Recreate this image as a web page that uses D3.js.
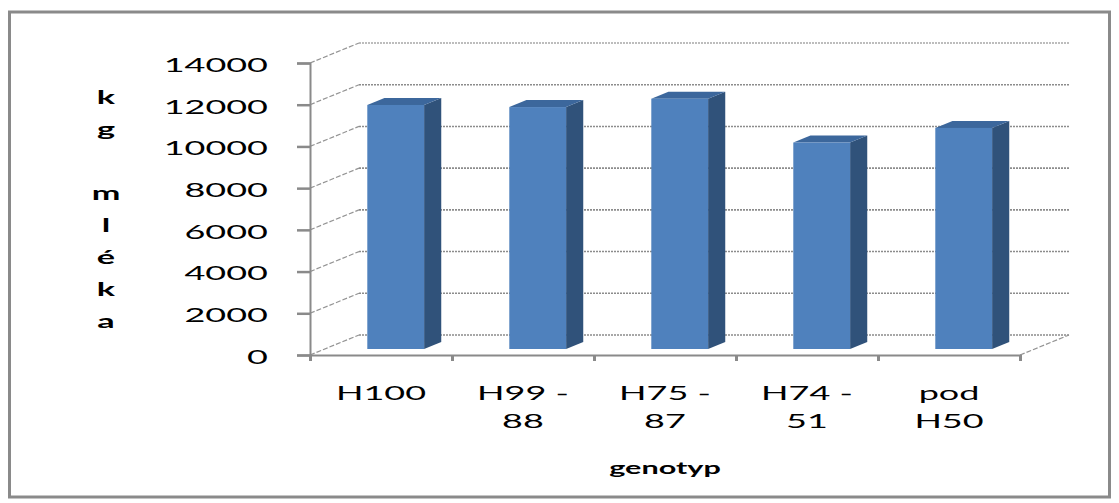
<!DOCTYPE html>
<html>
<head>
<meta charset="utf-8">
<script src="https://cdn.jsdelivr.net/npm/d3@7"></script>
<style>
  body { margin: 0; background: #fff; }
  text { font-family: Lato, "Open Sans", sans-serif; fill: #000; }
</style>
</head>
<body>
<div id="chart"></div>
<script>
// data
var categories = ['H100', 'H99 - 88', 'H75 - 87', 'H74 - 51', 'pod H50'];
var category_lines = [['H100'], ['H99 -', '88'], ['H75 -', '87'], ['H74 -', '51'], ['pod', 'H50']];
var values = [11700, 11600, 12000, 9900, 10600];
var y_ticks = [0, 2000, 4000, 6000, 8000, 10000, 12000, 14000];
var y_title_lines = ['k', 'g', '', 'm', 'l', 'é', 'k', 'a'];
var x_title = 'genotyp';

var chart_width = 1119;
var chart_height = 503;
var sx = 1.8; // the labels in the original are stretched sideways

// 3d depth: the back wall sits this far right / up from the front
var depth_x = 49;
var depth_y = -20;
var bar_z0 = 0.3, bar_z1 = 0.65;

var svg = d3.select('#chart')
  .append('svg')
  .attr('width', chart_width)
  .attr('height', chart_height);

// outer frame
svg.append('rect')
  .attr('x', 9.5).attr('y', 12)
  .attr('width', 1100).attr('height', 485)
  .attr('fill', 'none')
  .attr('stroke', '#8a8a8a')
  .attr('stroke-width', 3);

// scales
var x_scale = d3.scaleBand()
  .domain(categories)
  .range([310, 1020])
  .paddingInner(0.6)
  .paddingOuter(0.3);

var x_edges = d3.scaleLinear()
  .domain([0, categories.length])
  .range([310, 1020]);

var y_scale = d3.scaleLinear()
  .domain([0, 14000])
  .range([355, 63]);

// back wall gridlines
var grid = svg.append('g').attr('class', 'grid');
grid.selectAll('line.back')
  .data(y_ticks)
  .enter()
  .append('line')
  .attr('x1', 310 + depth_x)
  .attr('x2', 1020 + depth_x)
  .attr('y1', function(d) { return y_scale(d) + depth_y; })
  .attr('y2', function(d) { return y_scale(d) + depth_y; })
  .attr('stroke', function(d) { return d === 14000 ? '#a8a8a8' : '#8c8c8c'; })
  .attr('stroke-width', 1.6)
  .attr('stroke-dasharray', '2,1');

// side wall diagonals
grid.selectAll('line.side')
  .data(y_ticks)
  .enter()
  .append('line')
  .attr('x1', 310)
  .attr('x2', 310 + depth_x)
  .attr('y1', function(d) { return y_scale(d); })
  .attr('y2', function(d) { return y_scale(d) + depth_y; })
  .attr('stroke', '#949494')
  .attr('stroke-width', 1.2)
  .attr('stroke-dasharray', '5,2');

// floor right edge
grid.append('line')
  .attr('x1', 1020).attr('y1', y_scale(0))
  .attr('x2', 1020 + depth_x).attr('y2', y_scale(0) + depth_y)
  .attr('stroke', '#949494')
  .attr('stroke-width', 1.2)
  .attr('stroke-dasharray', '5,2');

// bars
var bw = x_scale.bandwidth();
var dx0 = depth_x * bar_z0, dy0 = depth_y * bar_z0;
var ddx = depth_x * (bar_z1 - bar_z0), ddy = depth_y * (bar_z1 - bar_z0);

var bars = svg.append('g')
  .attr('class', 'bars')
  .selectAll('g')
  .data(values)
  .enter()
  .append('g')
  .attr('transform', function(d, i) {
    return 'translate(' + (x_scale(categories[i]) + dx0) + ',' + dy0 + ')';
  });

// side face
bars.append('polygon')
  .attr('points', function(d) {
    var top = y_scale(d), bot = y_scale(0);
    return [[bw, top], [bw + ddx, top + ddy], [bw + ddx, bot + ddy], [bw, bot]].join(' ');
  })
  .attr('fill', '#30527a');

// top face
bars.append('polygon')
  .attr('points', function(d) {
    var top = y_scale(d);
    return [[0, top], [ddx, top + ddy], [bw + ddx, top + ddy], [bw, top]].join(' ');
  })
  .attr('fill', '#3c679c');

// front face
bars.append('rect')
  .attr('x', 0)
  .attr('y', function(d) { return y_scale(d); })
  .attr('width', bw)
  .attr('height', function(d) { return y_scale(0) - y_scale(d); })
  .attr('fill', '#4f81bd');

// y axis
var y_axis = d3.axisLeft(y_scale)
  .tickValues(y_ticks)
  .tickSize(13)
  .tickPadding(29)
  .tickFormat(d3.format('d'));

var y_g = svg.append('g')
  .attr('class', 'y-axis')
  .attr('transform', 'translate(310,0)')
  .call(y_axis);

y_g.select('.domain').attr('stroke', '#8a8a8a').attr('stroke-width', 2);
y_g.selectAll('.tick line').attr('stroke', '#8a8a8a').attr('stroke-width', 2.5);
y_g.selectAll('.tick text')
  .attr('x', null)
  .attr('dy', '0.42em')
  .attr('transform', 'translate(-42,0) scale(' + sx + ',1)')
  .style('font-family', 'Lato')
  .style('font-size', '20px')
  .attr('fill', '#000');

// x axis: ticks on the category edges
var x_ticks_axis = d3.axisBottom(x_edges)
  .ticks(categories.length)
  .tickSize(6)
  .tickFormat('');

var x_g = svg.append('g')
  .attr('class', 'x-axis')
  .attr('transform', 'translate(0,' + y_scale(0) + ')')
  .call(x_ticks_axis);

x_g.select('.domain').attr('stroke', '#8a8a8a').attr('stroke-width', 2);
x_g.selectAll('.tick line').attr('stroke', '#8a8a8a').attr('stroke-width', 3);

// x category labels
var label_axis = d3.axisBottom(x_scale).tickSize(0).tickFormat('');
var lab_g = svg.append('g')
  .attr('class', 'x-labels')
  .attr('transform', 'translate(0,' + y_scale(0) + ')')
  .call(label_axis);
lab_g.select('.domain').remove();
lab_g.selectAll('.tick').each(function(d, i) {
  var t = d3.select(this).select('text')
    .attr('y', null)
    .attr('dy', null)
    .attr('transform', 'translate(0,45) scale(' + sx + ',1)')
    .attr('text-anchor', 'middle')
    .style('font-family', 'Lato')
    .style('font-size', '20px')
    .attr('fill', '#000');
  category_lines[i].forEach(function(line, j) {
    t.append('tspan')
      .attr('x', 0)
      .attr('y', j * 28)
      .text(line);
  });
});

// axis titles
svg.append('g')
  .selectAll('text')
  .data(y_title_lines)
  .enter()
  .append('text')
  .attr('transform', function(d, i) {
    return 'translate(106,' + (104 + i * 32) + ') scale(' + sx + ',1)';
  })
  .attr('text-anchor', 'middle')
  .style('font-weight', 'bold')
  .style('font-size', '19px')
  .text(function(d) { return d; });

svg.append('text')
  .attr('transform', 'translate(665,474) scale(' + sx + ',1)')
  .attr('text-anchor', 'middle')
  .style('font-weight', 'bold')
  .style('font-size', '17px')
  .text(x_title);
</script>
</body>
</html>
